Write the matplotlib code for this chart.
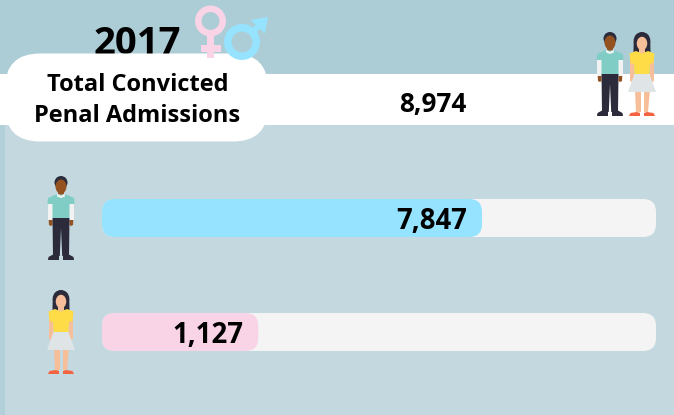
import matplotlib
matplotlib.use("Agg")
import matplotlib.pyplot as plt
from matplotlib.patches import FancyBboxPatch, Rectangle, Polygon, Circle, Ellipse

title_year = "2017"
total_label = ["Total Convicted", "Penal Admissions"]
total_value = "8,974"
categories = ["Male", "Female"]
value_labels = ["7,847", "1,127"]
# drawn length of each bar as a share of its track (the graphic is not to scale)
fill_share = [68.6, 28.2]
track_max = 100

SKIN_D, SKIN_L = "#93521f", "#f6bf9a"
NAVY = "#2b2b3c"
C_BG_TOP, C_BG, C_STRIP = "#adcdd6", "#c3d8df", "#b2d0d9"
C_M, C_F, C_TRACK = "#95e3ff", "#f9d3e6", "#f4f4f4"
FONT = "Open Sans"

fig = plt.figure(figsize=(6.74, 4.15), dpi=100)
bg = fig.add_axes([0, 0, 1, 1])
bg.set_xlim(0, 674); bg.set_ylim(415, 0); bg.axis("off")

bg.add_patch(Rectangle((0, 0), 674, 415, fc=C_BG, ec="none"))
bg.add_patch(Rectangle((0, 0), 674, 74, fc=C_BG_TOP, ec="none"))
bg.add_patch(Rectangle((0, 74), 5, 341, fc=C_STRIP, ec="none"))
bg.add_patch(Rectangle((0, 74), 674, 51.5, fc="white", ec="none"))


def rbox(ax, x0, y0, w, h, r, fc, z=2):
    ax.add_patch(FancyBboxPatch((x0 + r, y0 + r), w - 2 * r, h - 2 * r,
                                boxstyle=f"round,pad={r},rounding_size={r}",
                                fc=fc, ec="none", zorder=z))


# title pill
rbox(bg, 5, 53.5, 263, 88, 35, "white", 2)


def male(ax, cx, top, s=1.0):
    X = lambda v: cx + v * s
    Y = lambda v: top + v * s
    P = lambda pts, c, z=5: ax.add_patch(Polygon([(X(a), Y(b)) for a, b in pts], closed=True, fc=c, ec="none", zorder=z))
    ax.add_patch(Circle((X(0), Y(6.5)), 6.5 * s, fc=NAVY, ec="none", zorder=5))
    ax.add_patch(Ellipse((X(0), Y(10.5)), 11 * s, 14 * s, fc=SKIN_D, ec="none", zorder=6))
    P([(-3, 14), (3, 14), (3, 20), (-3, 20)], SKIN_D)
    P([(-13.3, 27), (-8, 27), (-8, 44), (-13.3, 44)], "#f2f2f2")
    P([(13.3, 27), (8, 27), (8, 44), (13.3, 44)], "#f2f2f2")
    P([(-12.3, 44), (-8.5, 44), (-8.5, 49), (-10, 50), (-12, 49)], SKIN_D)
    P([(12.3, 44), (8.5, 44), (8.5, 49), (10, 50), (12, 49)], SKIN_D)
    P([(-13, 22), (-5, 18.5), (5, 18.5), (13, 22), (13.5, 28), (8.5, 28), (8.5, 42), (-8.5, 42), (-8.5, 28), (-13.5, 28)], "#7fcdc4", 6)
    P([(-3.5, 17.5), (0, 20), (3.5, 17.5), (4, 20.5), (0, 22), (-4, 20.5)], "#f4f4f4", 7)
    P([(-8.5, 42), (8.5, 42), (8, 80), (1.2, 80), (0, 52), (-1.2, 80), (-8, 80)], NAVY, 6)
    P([(-13, 84), (-12.5, 81), (-7, 78), (-2, 79), (-2, 84)], NAVY, 6)
    P([(13, 84), (12.5, 81), (7, 78), (2, 79), (2, 84)], NAVY, 6)


def female(ax, cx, top, s=1.0):
    X = lambda v: cx + v * s
    Y = lambda v: top + v * s
    P = lambda pts, c, z=5: ax.add_patch(Polygon([(X(a), Y(b)) for a, b in pts], closed=True, fc=c, ec="none", zorder=z))
    P([(-8.3, 9), (8.3, 9), (8.5, 20), (-8.5, 20)], NAVY, 4)
    ax.add_patch(Ellipse((X(0), Y(8.5)), 16.6 * s, 17 * s, fc=NAVY, ec="none", zorder=4))
    ax.add_patch(Ellipse((X(0), Y(11.5)), 10.5 * s, 13.5 * s, fc=SKIN_L, ec="none", zorder=6))
    P([(-3, 15), (3, 15), (3, 22), (-3, 22)], SKIN_L)
    P([(-12, 25), (-8, 25), (-8, 42), (-8, 49), (-10, 50), (-12, 49)], SKIN_L)
    P([(12, 25), (8, 25), (8, 42), (8, 49), (10, 50), (12, 49)], SKIN_L)
    P([(-7.5, 58), (-1.5, 58), (-1.5, 80), (-6, 80)], SKIN_L)
    P([(7.5, 58), (1.5, 58), (1.5, 80), (6, 80)], SKIN_L)
    P([(-12.5, 21.5), (-6, 19), (0, 21.5), (6, 19), (12.5, 21.5), (11.5, 31), (8, 32), (7.5, 42), (-7.5, 42), (-8, 32), (-11.5, 31)], "#fddc48", 6)
    P([(-7.5, 42), (7.5, 42), (14, 60), (-14, 60)], "#dfe4e7", 6)
    P([(-13, 84), (-11.5, 81), (-5, 80), (-2, 81), (-2, 84)], "#f4633f", 6)
    P([(13, 84), (11.5, 81), (5, 80), (2, 81), (2, 84)], "#f4633f", 6)


# tracks and fills, scaled from the shares above
px_left, px_right = 102, 656
scale = (px_right - px_left) / track_max
rows_y = [199, 313]
colors = [C_M, C_F]
for share, lab, y, c in zip(fill_share, value_labels, rows_y, colors):
    rbox(bg, px_left, y, track_max * scale, 38, 13, C_TRACK, 3)
    w = share * scale
    rbox(bg, px_left, y, w, 38, 13, c, 4)
    bg.text(px_left + w - 15, y + 22, lab, ha="right", va="center", fontsize=19.8,
            fontweight="bold", family=FONT, color="black", zorder=8)

# figures
male(bg, 61, 176)
female(bg, 61, 290)
male(bg, 610, 32)
female(bg, 642, 32)

# gender symbols
bg.add_patch(Circle((210.5, 21), 12.2, fc="none", ec=C_F, lw=4.7, zorder=5))
bg.add_patch(Rectangle((207, 34), 6.5, 24, fc=C_F, ec="none", zorder=5))
bg.add_patch(Rectangle((200.5, 45.5), 20, 6.5, fc=C_F, ec="none", zorder=5))
bg.add_patch(Circle((242, 42), 14.2, fc="none", ec=C_M, lw=5.4, zorder=6))
bg.add_patch(Polygon([(249, 31), (258, 23), (262, 27), (253, 36)], fc=C_M, ec="none", zorder=6))
bg.add_patch(Polygon([(250.5, 20), (268, 17), (265, 33.5)], fc=C_M, ec="none", zorder=6))

# text
bg.text(137, 43.5, title_year, ha="center", va="center", fontsize=27.5, fontweight="bold",
        family=FONT, color="black", zorder=1.5)
bg.text(137.5, 85, total_label[0], ha="center", va="center", fontsize=17, fontweight="bold",
        family=FONT, color="black", zorder=8)
bg.text(137.5, 116, total_label[1], ha="center", va="center", fontsize=17, fontweight="bold",
        family=FONT, color="black", zorder=8)
bg.text(433, 104, total_value, ha="center", va="center", fontsize=18.8, fontweight="bold",
        family=FONT, color="black", zorder=8)

fig.savefig("out.png", dpi=100)
